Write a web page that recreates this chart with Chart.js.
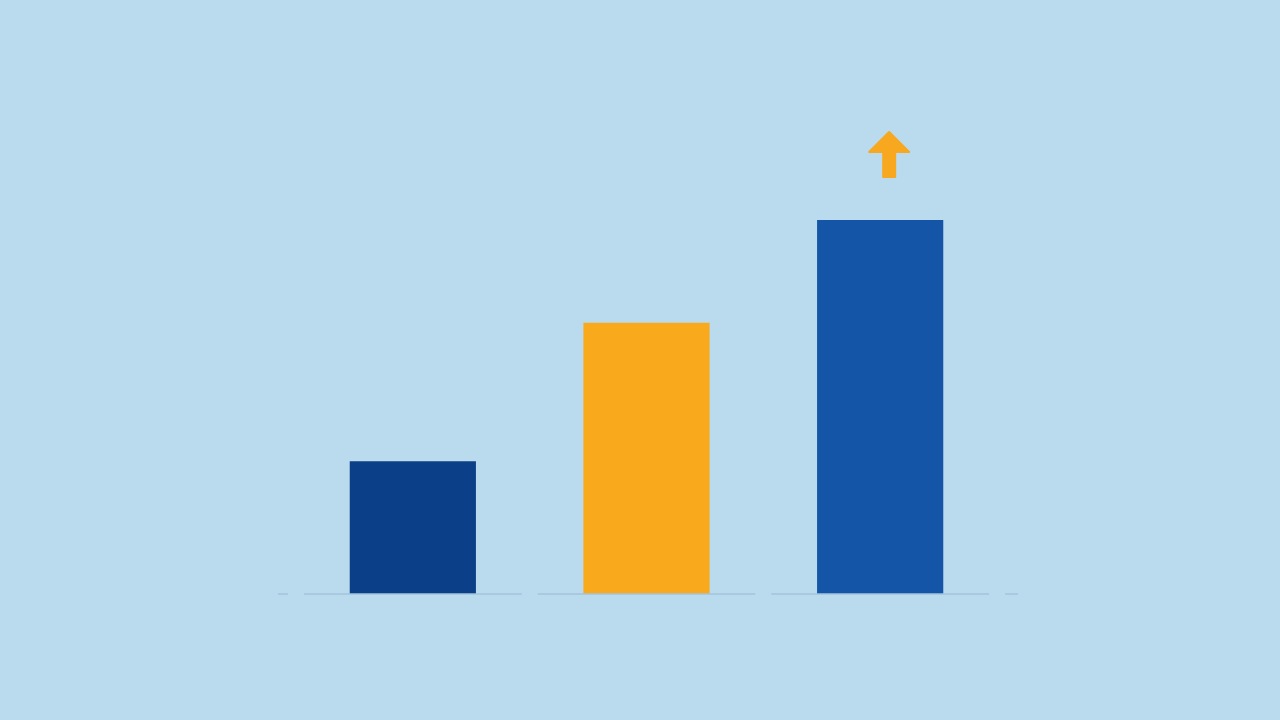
<!DOCTYPE html>
<html>
<head>
<meta charset="utf-8">
<script src="https://cdn.jsdelivr.net/npm/chart.js@4"></script>
<style>
  html, body { margin: 0; padding: 0; background: #badaee; }
  #wrap { width: 1280px; height: 720px; }
</style>
</head>
<body>
<div id="wrap"><canvas id="chart"></canvas></div>
<script>
// chart data
const categories = ['A', 'B', 'C'];
const values = [35.5, 72.5, 100];
const barColors = ['#0b3f87', '#f8aa1c', '#1455a8'];
const arrowColor = '#f7a81f';
const baselineColor = '#a2c3dc';

// baseline drawn as one segment per category, with small gaps between them
const baselinePlugin = {
  id: 'baseline',
  afterDatasetsDraw(chart) {
    let ctx = chart.ctx;
    let x = chart.scales.x;
    let y0 = chart.scales.y.getPixelForValue(0);
    let step = x.getPixelForValue(1) - x.getPixelForValue(0);
    let gap = 8;
    ctx.save();
    ctx.strokeStyle = baselineColor;
    ctx.lineWidth = 1.5;
    ctx.beginPath();
    // small stubs outside the first and last category
    let left = x.getPixelForValue(0) - step / 2;
    let right = x.getPixelForValue(categories.length - 1) + step / 2;
    ctx.moveTo(left - 18, y0); ctx.lineTo(left - gap, y0);
    ctx.moveTo(right + gap, y0); ctx.lineTo(right + 21, y0);
    for (let i = 0; i < categories.length; i++) {
      let c = x.getPixelForValue(i);
      ctx.moveTo(c - step / 2 + gap, y0);
      ctx.lineTo(c + step / 2 - gap, y0);
    }
    ctx.stroke();

    // up arrow above the tallest bar
    let bar = chart.getDatasetMeta(0).data[values.length - 1];
    let ax = bar.x + 9;
    let bottom = bar.y - 43;
    ctx.fillStyle = arrowColor;
    ctx.lineJoin = 'round';
    ctx.strokeStyle = arrowColor;
    ctx.lineWidth = 2;
    ctx.beginPath();
    ctx.moveTo(ax, bottom - 45);
    ctx.lineTo(ax + 20, bottom - 25);
    ctx.lineTo(ax + 6, bottom - 25);
    ctx.lineTo(ax + 6, bottom);
    ctx.lineTo(ax - 6, bottom);
    ctx.lineTo(ax - 6, bottom - 25);
    ctx.lineTo(ax - 20, bottom - 25);
    ctx.closePath();
    ctx.fill();
    ctx.stroke();
    ctx.restore();
  }
};

let chart = new Chart(document.getElementById('chart'), {
  type: 'bar',
  data: {
    labels: categories,
    datasets: [{
      data: values,
      backgroundColor: barColors,
      borderWidth: 0,
      categoryPercentage: 1,
      barPercentage: 0.54
    }]
  },
  options: {
    responsive: true,
    maintainAspectRatio: false,
    animation: false,
    layout: { padding: { left: 296, right: 283, top: 220, bottom: 126 } },
    plugins: { legend: { display: false }, tooltip: { enabled: false } },
    scales: {
      x: { display: false },
      y: { display: false, min: 0, max: 100 }
    }
  },
  plugins: [baselinePlugin]
});
</script>
</body>
</html>
